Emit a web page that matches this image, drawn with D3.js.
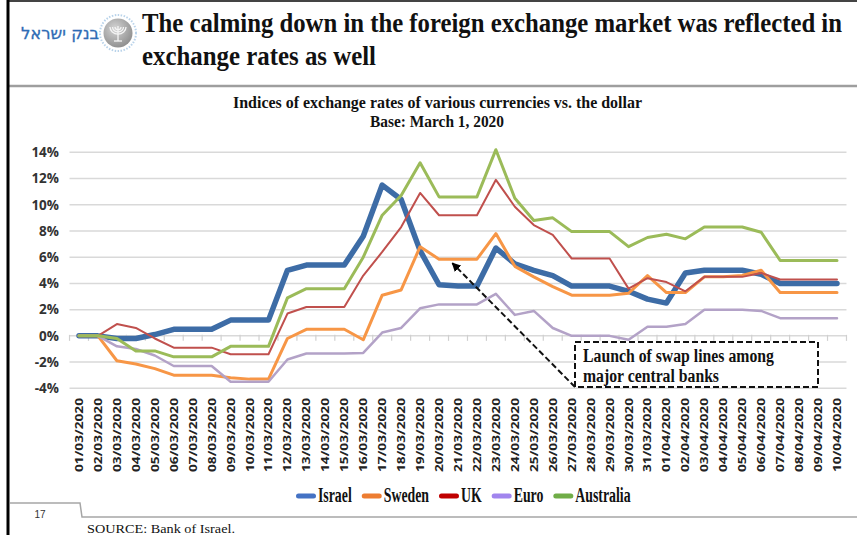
<!DOCTYPE html>
<html>
<head>
<meta charset="utf-8">
<script src="https://cdn.jsdelivr.net/npm/d3@7/dist/d3.min.js"></script>
<style>
  html, body { margin: 0; padding: 0; background: #fff; }
  svg { display: block; }
</style>
</head>
<body>
<svg id="chart" width="857" height="535"></svg>
<script>
// ---- Data: daily index of each currency vs. the dollar (% change from 1 March 2020)
const dates = [
  "01/03/2020","02/03/2020","03/03/2020","04/03/2020","05/03/2020","06/03/2020","07/03/2020",
  "08/03/2020","09/03/2020","10/03/2020","11/03/2020","12/03/2020","13/03/2020","14/03/2020",
  "15/03/2020","16/03/2020","17/03/2020","18/03/2020","19/03/2020","20/03/2020","21/03/2020",
  "22/03/2020","23/03/2020","24/03/2020","25/03/2020","26/03/2020","27/03/2020","28/03/2020",
  "29/03/2020","30/03/2020","31/03/2020","01/04/2020","02/04/2020","03/04/2020","04/04/2020",
  "05/04/2020","06/04/2020","07/04/2020","08/04/2020","09/04/2020","10/04/2020"
];
const israel = [0,0,-0.2,-0.2,0.1, 0.5,0.5,0.5,1.2,1.2, 1.2,5.0,5.4,5.4,5.4, 7.6,11.5,10.4,6.5,3.9,
  3.8,3.8,6.7,5.5,5.0, 4.6,3.8,3.8,3.8,3.4, 2.8,2.5,4.8,5.0,5.0, 5.0,4.7,4.0,4.0,4.0, 4.0];
const sweden = [0,0,-1.9,-2.15,-2.5, -3.0,-3.0,-3.0,-3.2,-3.3, -3.3,-0.2,0.5,0.5,0.5, -0.3,3.1,3.5,6.8,5.85,
  5.85,5.85,7.8,5.3,4.5, 3.75,3.1,3.1,3.1,3.25, 4.6,3.3,3.3,4.5,4.5, 4.6,5.0,3.3,3.3,3.3, 3.3];
const uk = [0,0,0.9,0.6,-0.2, -0.9,-0.9,-0.9,-1.4,-1.4, -1.4,1.7,2.2,2.2,2.2, 4.6,6.4,8.3,10.9,9.2,
  9.2,9.2,11.9,9.85,8.45, 7.7,5.9,5.9,5.9,3.6, 4.4,4.1,3.4,4.5,4.5, 4.5,4.8,4.3,4.3,4.3, 4.3];
const euro = [0,0,-0.8,-1.0,-1.5, -2.3,-2.3,-2.3,-3.5,-3.5, -3.5,-1.8,-1.35,-1.35,-1.35, -1.3,0.25,0.6,2.1,2.4,
  2.4,2.4,3.2,1.6,1.9, 0.6,0,0,0,-0.3, 0.7,0.7,0.9,2.0,2.0, 2.0,1.9,1.35,1.35,1.35, 1.35];
const australia = [0,0,-0.2,-1.15,-1.15, -1.6,-1.6,-1.6,-0.8,-0.8, -0.8,2.9,3.6,3.6,3.6, 6.0,9.2,10.7,13.2,10.6,
  10.6,10.6,14.2,10.5,8.8, 9.0,7.95,7.95,7.95,6.8, 7.5,7.75,7.4,8.3,8.3, 8.3,7.9,5.75,5.75,5.75, 5.75];
const seriesNames = ["Israel", "Sweden", "UK", "Euro", "Australia"];
const yTicks = [-4, -2, 0, 2, 4, 6, 8, 10, 12, 14];

// ---- Texts
const titleLines = ["The calming down in the foreign exchange market was reflected in", "exchange rates as well"];
const subtitleLines = ["Indices of exchange rates of various currencies vs. the dollar", "Base: March 1, 2020"];
const noteLines = ["Launch of swap lines among", "major central banks"];
const bankName = "בנק ישראל";
const pageNumber = "17";
const sourceText = "SOURCE: Bank of Israel.";

// ---- Styles
const lineColors  = { Israel: "#3d6ca6", Sweden: "#f79646", UK: "#c0504d", Euro: "#b3a2c7", Australia: "#9bbb59" };
const lineWidths  = { Israel: 5.5, Sweden: 3, UK: 2, Euro: 2.5, Australia: 3 };
const swatchColors = { Israel: "#4472c4", Sweden: "#ed7d31", UK: "#c00000", Euro: "#a185ee", Australia: "#70ad47" };
const SERIF = "'Liberation Serif','Times New Roman',serif";
const SANS = "'Open Sans','DejaVu Sans',sans-serif";

const values = { Israel: israel, Sweden: sweden, UK: uk, Euro: euro, Australia: australia };
const series = seriesNames.map(name => ({
  name,
  points: dates.map((d, i) => ({ date: d, value: values[name][i] }))
}));

const svg = d3.select("#chart");

// ---- Slide frame
svg.append("line").attr("x1", 8).attr("x2", 857).attr("y1", 1).attr("y2", 1)
  .attr("stroke", "#444").attr("stroke-width", 2);
svg.append("line").attr("x1", 8).attr("x2", 857).attr("y1", 86).attr("y2", 86)
  .attr("stroke", "#9e9e9e").attr("stroke-width", 2.5);
svg.append("path").attr("d", "M10,503H80L82,517H857")
  .attr("fill", "none").attr("stroke", "#a6a6a6").attr("stroke-width", 1.5);
svg.append("line").attr("x1", 8).attr("x2", 8).attr("y1", 0).attr("y2", 535)
  .attr("stroke", "#000").attr("stroke-width", 3);

// ---- Header: bank name and emblem
svg.append("text").attr("x", 60).attr("y", 39).attr("text-anchor", "middle")
  .attr("font-family", "'DejaVu Sans','Noto Sans',sans-serif").attr("font-size", 16.5)
  .attr("fill", "#2f6cb5").attr("stroke", "#2f6cb5").attr("stroke-width", 0.3)
  .text(bankName);

const defs = svg.append("defs");
const rg = defs.append("radialGradient").attr("id", "emblemFill").attr("cx", "40%").attr("cy", "35%").attr("r", "70%");
rg.append("stop").attr("offset", "0%").attr("stop-color", "#d4d4d4");
rg.append("stop").attr("offset", "100%").attr("stop-color", "#8c8c8c");

const emblem = svg.append("g").attr("transform", "translate(118,33)");
emblem.append("circle").attr("r", 18).attr("fill", "none")
  .attr("stroke", "#b9d3ea").attr("stroke-width", 2).attr("stroke-dasharray", "1.5,1.5");
emblem.append("circle").attr("r", 14.5).attr("fill", "url(#emblemFill)");
// menorah
const men = emblem.append("g").attr("stroke", "#f4f4f4").attr("fill", "none").attr("stroke-width", 1.3);
[3, 5.5, 8].forEach(r => {
  men.append("path").attr("d", `M${-r},-6 A${r},${r * 0.9} 0 0 0 ${r},-6`);
});
men.append("line").attr("x1", 0).attr("x2", 0).attr("y1", -7).attr("y2", 8);
men.append("line").attr("x1", -4).attr("x2", 4).attr("y1", 8).attr("y2", 8);

// ---- Title (narrow bold serif: slightly taller glyphs than their width)
titleLines.forEach((t, i) => {
  svg.append("g").attr("transform", `translate(142,${i === 0 ? 32 : 65}) scale(1,1.13)`)
    .append("text")
    .attr("font-family", SERIF).attr("font-weight", "bold").attr("font-size", 24.5)
    .attr("fill", "#111")
    .attr("textLength", i === 0 ? 700 : 234).attr("lengthAdjust", "spacingAndGlyphs")
    .text(t);
});

// ---- Chart subtitle
subtitleLines.forEach((t, i) => {
  svg.append("text").attr("x", i === 0 ? 437.5 : 437).attr("y", i === 0 ? 108 : 127)
    .attr("text-anchor", "middle")
    .attr("font-family", SERIF).attr("font-weight", "bold").attr("font-size", 16.5)
    .attr("fill", "#111")
    .attr("textLength", i === 0 ? 409 : 134).attr("lengthAdjust", "spacingAndGlyphs")
    .text(t);
});

// ---- Scales
const x = d3.scalePoint().domain(dates).range([79, 837]);
const step = x.step();
const y = d3.scaleLinear().domain([-4, 14]).range([388.3, 152.3]);
const plotLeft = x(dates[0]) - step / 2;
const plotRight = x(dates[dates.length - 1]) + step / 2;

// gridlines
svg.append("g").selectAll("line").data(yTicks.filter(v => v !== 0)).join("line")
  .attr("x1", plotLeft).attr("x2", plotRight)
  .attr("y1", d => y(d)).attr("y2", d => y(d))
  .attr("stroke", "#d9d9d9").attr("stroke-width", 1.5);

// y labels
svg.append("g").selectAll("text").data(yTicks).join("text")
  .attr("x", 59).attr("y", d => y(d)).attr("dy", "0.36em")
  .attr("text-anchor", "end")
  .attr("font-family", SANS).attr("font-weight", "bold").attr("font-size", 13.5)
  .attr("fill", "#333")
  .text(d => d + "%");

// zero axis with category ticks
const axisG = svg.append("g");
axisG.append("line").attr("x1", plotLeft).attr("x2", plotRight)
  .attr("y1", y(0)).attr("y2", y(0)).attr("stroke", "#d9d9d9").attr("stroke-width", 1.5);
const boundaries = dates.map(d => x(d) - step / 2).concat([plotRight]);
axisG.selectAll("line.tick").data(boundaries).join("line").attr("class", "tick")
  .attr("x1", d => d).attr("x2", d => d)
  .attr("y1", y(0) - 1).attr("y2", y(0) + 5)
  .attr("stroke", "#d0d0d0").attr("stroke-width", 1.2);

// x labels (vertical)
svg.append("g").selectAll("text").data(dates).join("text")
  .attr("transform", d => `translate(${x(d)},398) rotate(-90)`)
  .attr("dy", "0.36em")
  .attr("text-anchor", "end")
  .attr("font-family", SANS).attr("font-weight", "bold").attr("font-size", 11)
  .attr("fill", "#222")
  .attr("textLength", 74).attr("lengthAdjust", "spacingAndGlyphs")
  .text(d => d);

// ---- Lines
const line = d3.line().x(p => x(p.date)).y(p => y(p.value));
svg.append("g").selectAll("path").data(series).join("path")
  .attr("d", s => line(s.points))
  .attr("fill", "none")
  .attr("stroke", s => lineColors[s.name])
  .attr("stroke-width", s => lineWidths[s.name])
  .attr("stroke-linejoin", "round")
  .attr("stroke-linecap", "round");

// ---- Annotation: dashed note box with arrow
defs.append("marker").attr("id", "arrowHead")
  .attr("viewBox", "0 0 10 10").attr("refX", 9).attr("refY", 5)
  .attr("markerWidth", 4.5).attr("markerHeight", 4.5).attr("orient", "auto")
  .append("path").attr("d", "M0,0L10,5L0,10z").attr("fill", "#000");

const box = { x: 575, y: 342, w: 243, h: 45 };
svg.append("rect").attr("x", box.x).attr("y", box.y).attr("width", box.w).attr("height", box.h)
  .attr("fill", "#fff").attr("stroke", "#111").attr("stroke-width", 2).attr("stroke-dasharray", "6,3");
noteLines.forEach((t, i) => {
  svg.append("text").attr("x", 583).attr("y", i === 0 ? 362 : 382)
    .attr("font-family", SERIF).attr("font-weight", "bold").attr("font-size", 18)
    .attr("fill", "#111")
    .attr("textLength", i === 0 ? 191 : 136).attr("lengthAdjust", "spacingAndGlyphs")
    .text(t);
});
const tip = [x(dates[19]) + 0.7 * step, y(5.55)];
svg.append("line").attr("x1", box.x).attr("y1", box.y + box.h)
  .attr("x2", tip[0]).attr("y2", tip[1])
  .attr("stroke", "#111").attr("stroke-width", 2).attr("stroke-dasharray", "6,3")
  .attr("marker-end", "url(#arrowHead)");

// ---- Legend
let lx = 296;
const legend = svg.append("g");
seriesNames.forEach(name => {
  legend.append("rect").attr("x", lx).attr("y", 493.5).attr("width", 20).attr("height", 5)
    .attr("rx", 2.5).attr("fill", swatchColors[name]);
  const t = legend.append("text").attr("x", lx + 22).attr("y", 501.5)
    .attr("font-family", SERIF).attr("font-weight", "bold").attr("font-size", 20)
    .attr("fill", "#111").text(name);
  const w = t.node().getComputedTextLength() * 0.69;
  t.attr("textLength", w).attr("lengthAdjust", "spacingAndGlyphs");
  lx += 22 + w + 10;
});

// ---- Footer
svg.append("text").attr("x", 40).attr("y", 518).attr("text-anchor", "middle")
  .attr("font-family", "'Liberation Sans',Arial,sans-serif").attr("font-size", 10)
  .attr("fill", "#333").text(pageNumber);
svg.append("text").attr("x", 87).attr("y", 533)
  .attr("font-family", SERIF).attr("font-size", 13)
  .attr("fill", "#111").attr("textLength", 148).attr("lengthAdjust", "spacingAndGlyphs")
  .text(sourceText);
</script>
</body>
</html>
